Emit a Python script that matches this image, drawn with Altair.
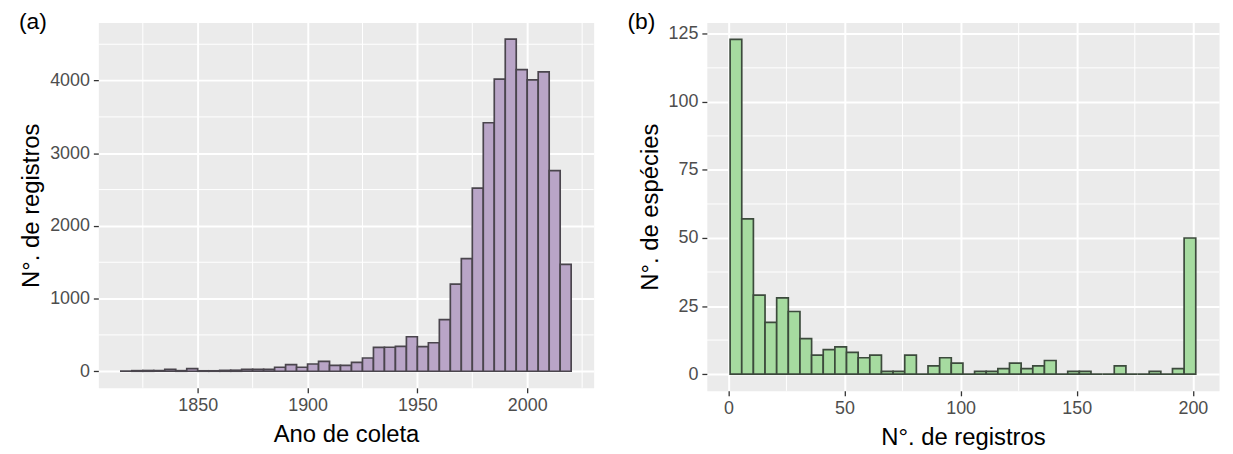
import altair as alt
import pandas as pd

# ---------------- data ----------------
# Panel (a): 5-year bins of collection year (bin start years)
year_bin_start = [1815, 1820, 1825, 1830, 1835, 1840, 1845, 1850, 1855, 1860,
                  1865, 1870, 1875, 1880, 1885, 1890, 1895, 1900, 1905, 1910,
                  1915, 1920, 1925, 1930, 1935, 1940, 1945, 1950, 1955, 1960,
                  1965, 1970, 1975, 1980, 1985, 1990, 1995, 2000, 2005, 2010,
                  2015]
year_bin_width = 5
year_counts = [3, 8, 10, 8, 25, 8, 35, 6, 6, 12,
               14, 25, 25, 25, 55, 91, 55, 100, 137, 82,
               82, 123, 182, 328, 330, 342, 475, 340, 392, 711,
               1200, 1550, 2520, 3420, 4020, 4570, 4150, 4010, 4120, 2760,
               1470]

# Panel (b): number of records per species, 40 bins
records_first_edge = 0.75
records_bin_width = 5.0125
species_counts = [123, 57, 29, 19, 28, 23, 13, 7, 9, 10,
                  8, 6, 7, 1, 1, 7, 0, 3, 6, 4,
                  0, 1, 1, 2, 4, 2, 3, 5, 0, 1,
                  1, 0, 0, 3, 0, 0, 1, 0, 2, 50]

ticks_a_x = [1850, 1900, 1950, 2000]
ticks_a_y = [0, 1000, 2000, 3000, 4000]
minor_a_x = [1825, 1875, 1925, 1975, 2025]
minor_a_y = [500, 1500, 2500, 3500, 4500]

ticks_b_x = [0, 50, 100, 150, 200]
ticks_b_y = [0, 25, 50, 75, 100, 125]
minor_b_x = [25, 75, 125, 175]
minor_b_y = [12.5, 37.5, 62.5, 87.5, 112.5]

panel_labels = ["(a)", "(b)"]

# ---------------- tables ----------------
df_a = pd.DataFrame({
    "x0": year_bin_start,
    "x1": [s + year_bin_width for s in year_bin_start],
    "n": year_counts,
})
b_starts = [records_first_edge + i * records_bin_width for i in range(len(species_counts))]
df_b = pd.DataFrame({
    "x0": b_starts,
    "x1": [s + records_bin_width for s in b_starts],
    "n": species_counts,
})

FONT = "Liberation Sans"

axis_common = dict(
    domain=False, tickColor="#333333", tickSize=5, tickWidth=1.3,
    labelColor="#4D4D4D", labelFontSize=18, labelFont=FONT,
    titleFont=FONT, titleFontSize=24, titleFontWeight="normal", titleColor="black",
    gridColor="white", gridWidth=2, labelPadding=4, format="d",
)


def panel(df, xdom, ydom, xt, yt, mx, my, xtitle, ytitle, fill, stroke, label, w, h):
    xs = alt.Scale(domain=xdom, nice=False, zero=False)
    ys = alt.Scale(domain=ydom, nice=False, zero=False)
    xax = alt.Axis(values=xt, title=xtitle, titlePadding=8, **axis_common)
    yax = alt.Axis(values=yt, title=ytitle, titlePadding=6, **axis_common)
    minor_x = alt.Chart(pd.DataFrame({"v": mx})).mark_rule(
        color="white", strokeWidth=1).encode(x=alt.X("v:Q", scale=xs, axis=xax))
    minor_y = alt.Chart(pd.DataFrame({"v": my})).mark_rule(
        color="white", strokeWidth=1).encode(y=alt.Y("v:Q", scale=ys, axis=yax))
    bars = alt.Chart(df).mark_rect(fill=fill, stroke=stroke, strokeWidth=1.7).encode(
        x=alt.X("x0:Q", scale=xs, axis=xax),
        x2="x1:Q",
        y=alt.Y("n:Q", scale=ys, axis=yax),
        y2=alt.datum(0),
    )
    lab = alt.Chart(pd.DataFrame({"t": [label]})).mark_text(
        align="left", baseline="top", fontSize=23, font=FONT, color="black"
    ).encode(x=alt.value(-80), y=alt.value(-12), text="t:N")
    return alt.layer(minor_x, minor_y, bars, lab).properties(width=w, height=h)


pa = panel(df_a, [1804.75, 2030.25], [-228.5, 4798.5], ticks_a_x, ticks_a_y,
           minor_a_x, minor_a_y, "Ano de coleta", "N°. de registros",
           "#B9A5C7", "#4A454D", panel_labels[0], 499, 368)
pb = panel(df_b, [-9.275, 211.275], [-6.15, 129.15], ticks_b_x, ticks_b_y,
           minor_b_x, minor_b_y, "N°. de registros", "N°. de espécies",
           "#A6DBA0", "#3C4A3C", panel_labels[1], 516, 371)

chart = alt.hconcat(pa, pb, spacing=114, bounds="flush").properties(
    padding={"left": 10, "top": 0, "right": 5, "bottom": 5},
    background="white",
).configure_view(fill="#EBEBEB", stroke="transparent")

chart.save("out.html", embed_options={"renderer": "svg", "actions": False})
